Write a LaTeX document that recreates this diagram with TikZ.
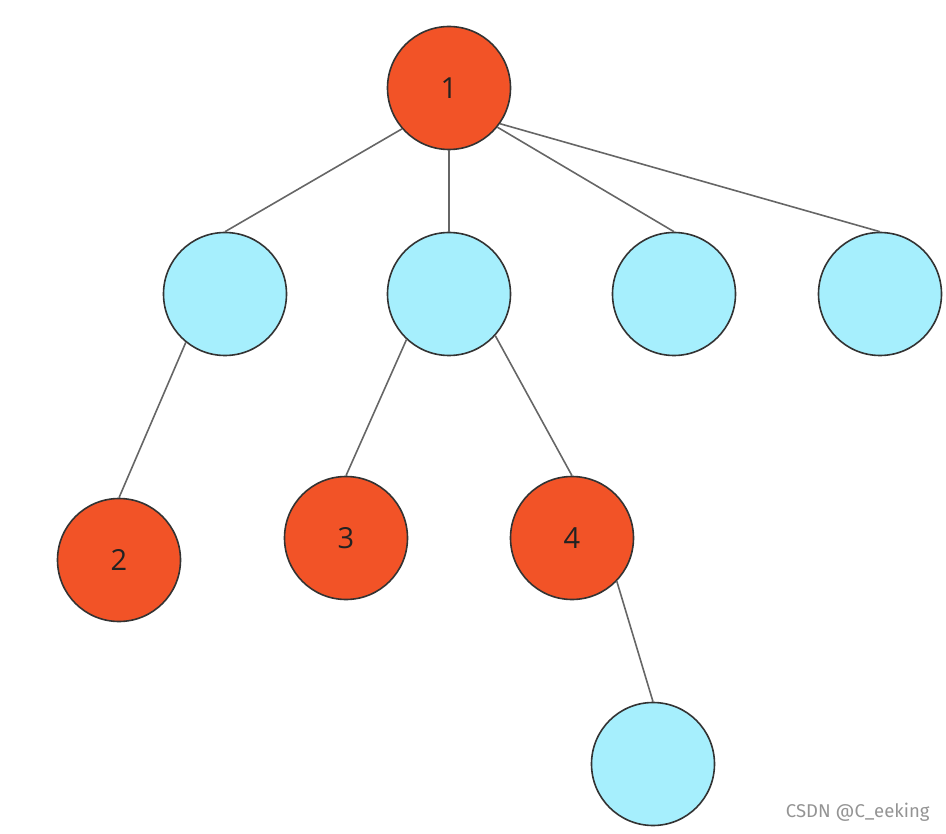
\documentclass[tikz,border=0pt]{standalone}
\usepackage{fontspec}
\setmainfont{Open Sans}
\newfontfamily\wmfont{Fira Sans}
\definecolor{redn}{HTML}{F25327}
\definecolor{bluen}{HTML}{A6EFFD}
\definecolor{rim}{HTML}{333333}
\definecolor{txt}{HTML}{222222}
\definecolor{edgec}{HTML}{666666}
\begin{document}
\begin{tikzpicture}[x=1pt,y=-1pt,
  nd/.style={circle,draw=rim,line width=1.6pt,minimum size=123pt,inner sep=0pt,font=\fontsize{29}{30}\selectfont,text=txt},
  rn/.style={nd,fill=redn},
  bn/.style={nd,fill=bluen},
  ed/.style={draw=edgec,line width=1.6pt}]
\useasboundingbox (0,0) rectangle (946,834);
\node[rn] (n1) at (449,88) {1};
\node[bn] (a) at (225,294) {};
\node[bn] (b) at (449,294) {};
\node[bn] (c) at (674,294) {};
\node[bn] (d) at (880,294) {};
\node[rn] (n2) at (119,560) {2};
\node[rn] (n3) at (346,538) {3};
\node[rn] (n4) at (572,538) {4};
\node[bn] (e) at (653,764) {};
\draw[ed] (n1.221) -- (a.north);
\draw[ed] (n1.south) -- (b.north);
\draw[ed] (n1.321) -- (c.north);
\draw[ed] (n1.325) -- (d.north);
\draw[ed] (a.231) -- (n2.north);
\draw[ed] (b.227) -- (n3.north);
\draw[ed] (b.318) -- (n4.north);
\draw[ed] (n4.316) -- (e.north);
\node[font=\wmfont\fontsize{18.5}{20}\selectfont,text=black!42,anchor=east] (wm) at (933,812) {CSDN @C\_eeking};
\end{tikzpicture}
\end{document}
